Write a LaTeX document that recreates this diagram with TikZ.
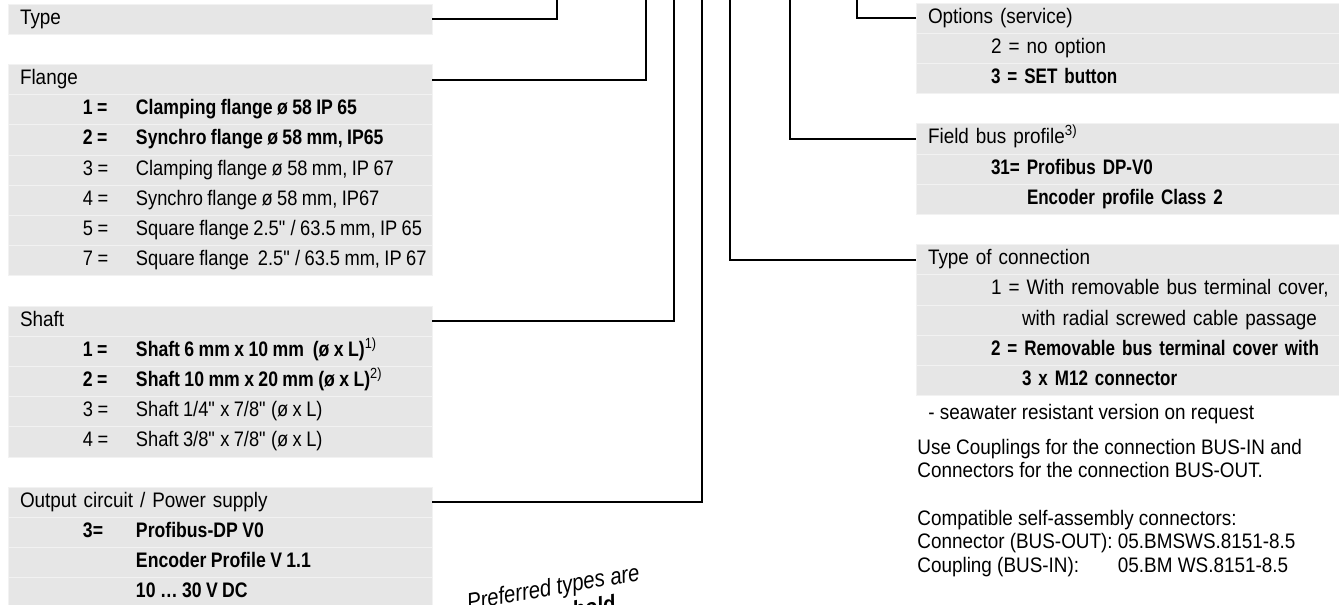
\documentclass[tikz,border=0pt]{standalone}
\usepackage{fontspec}
\setmainfont{Liberation Sans}[FakeStretch=0.9,BoldFeatures={FakeStretch=0.81}]
\newfontfamily\itemfont{Liberation Sans}[FakeStretch=0.87,BoldFeatures={FakeStretch=0.84}]
\newfontfamily\notefont{Liberation Sans}[FakeStretch=0.85]
\usepackage{calc}
\usetikzlibrary{positioning}
\definecolor{boxgray}{RGB}{230,230,230}
\definecolor{rowline}{RGB}{242,242,242}

\newcommand{\nr}[2]{\mbox{\itemfont\spaceskip=2.2pt\hspace*{31.5pt}\makebox[26.5pt][l]{#1}#2}}
\newcommand{\inch}{\textquotedbl}

\begin{document}
\begin{tikzpicture}[%
        x=0.5pt, y=-0.5pt,
        every node/.style={font=\fontsize{10.5}{12}\selectfont, text=black},
        box/.style={rectangle, fill=boxgray, draw=rowline, line width=0.5pt, outer sep=0pt,
          minimum height=15.1pt, text width=200pt, inner xsep=6pt, inner ysep=0pt,
          text height=7pt, text depth=2pt, align=left, anchor=north west},
        rbox/.style={box, text width=240pt},
        note/.style={inner sep=0pt, anchor=base west},
        link/.style={line width=1pt},
        node distance=0pt
      ]
      \useasboundingbox (0,0) rectangle (1339,605);
      \clip (0,0) rectangle (1339,605);
      \node [box] (type) at (8,4) {Type};
      \node [box] (flange) at (8,64.4) {Flange};
      \node [box] (fl1) [below=of flange] {\bfseries\nr{1 =}{Clamping flange ø 58 IP 65}};
      \node [box] (fl2) [below=of fl1] {\bfseries\nr{2 =}{Synchro flange ø 58 mm, IP65}};
      \node [box] (fl3) [below=of fl2] {\nr{3 =}{Clamping flange ø 58 mm, IP 67}};
      \node [box] (fl4) [below=of fl3] {\nr{4 =}{Synchro flange ø 58 mm, IP67}};
      \node [box] (fl5) [below=of fl4] {\nr{5 =}{Square flange 2.5\inch{} / 63.5 mm, IP 65}};
      \node [box] (fl7) [below=of fl5] {\nr{7 =}{Square flange \ 2.5\inch{} / 63.5 mm, IP 67}};
      \node [box] (shaft) [below=15.1pt of fl7] {Shaft};
      \node [box] (sh1) [below=of shaft] {\bfseries\nr{1 =}{Shaft 6 mm x 10 mm \ (ø x L)\textsuperscript{\mdseries 1)}}};
      \node [box] (sh2) [below=of sh1] {\bfseries\nr{2 =}{Shaft 10 mm x 20 mm (ø x L)\textsuperscript{\mdseries 2)}}};
      \node [box] (sh3) [below=of sh2] {\nr{3 =}{Shaft 1/4\inch{} x 7/8\inch{} (ø x L)}};
      \node [box] (sh4) [below=of sh3] {\nr{4 =}{Shaft 3/8\inch{} x 7/8\inch{} (ø x L)}};
      \node [box] (out) [below=15.1pt of sh4] {Output circuit / Power supply};
      \node [box] (out1) [below=of out] {\bfseries\nr{3=}{Profibus-DP V0}};
      \node [box] (out2) [below=of out1] {\bfseries\nr{}{Encoder Profile V 1.1}};
      \node [box] (out3) [below=of out2] {\bfseries\nr{}{10 … 30 V DC}};
      \node [rbox] (opt) at (916,3) {Options (service)};
      \node [rbox] (opt2) [below=of opt] {\hspace*{31.5pt}2 = no option};
      \node [rbox] (opt3) [below=of opt2] {\bfseries\hspace*{31.5pt}3 = SET button};
      \node [rbox] (bus) [below=15.1pt of opt3] {Field bus profile\textsuperscript{3)}};
      \node [rbox] (bus1) [below=of bus] {\bfseries\hspace*{31.5pt}31= Profibus DP-V0};
      \node [rbox] (bus2) [below=of bus1] {\bfseries\hspace*{49.5pt}Encoder profile Class 2};
      \node [rbox] (conn) [below=15.1pt of bus2] {Type of connection};
      \node [rbox] (conn1) [below=of conn] {\hspace*{31.5pt}1 = With removable bus terminal cover,};
      \node [rbox] (conn2) [below=of conn1] {\hspace*{47pt}with radial screwed cable passage};
      \node [rbox] (conn3) [below=of conn2] {\bfseries\hspace*{31.5pt}2 = Removable bus terminal cover with};
      \node [rbox] (conn4) [below=of conn3] {\bfseries\hspace*{47pt}3 x M12 connector};
      \node [note] (sea) at (928,419) {- seawater resistant version on request};
      \node [note] (use1) at (917,454) {Use Couplings for the connection BUS-IN and};
      \node [note] (use2) at (917,477) {Connectors for the connection BUS-OUT.};
      \node [note] (comp1) at (917,525) {Compatible self-assembly connectors:};
      \node [note] (comp2) at (917,548) {Connector (BUS-OUT): 05.BMSWS.8151-8.5};
      \node [note] (comp3) at (917,572) {\makebox[\widthof{Connector (BUS-OUT): }][l]{Coupling (BUS-IN):}05.BM WS.8151-8.5};
      \node [note, anchor=base east, rotate=10, font=\fontsize{12}{14}\selectfont] (pref) at (641,580) {\notefont\itshape Preferred types are};
      \node [note, anchor=base east, rotate=10, font=\fontsize{12}{14}\selectfont] (prefb) at (617,611) {\notefont\bfseries\itshape bold};
      \coordinate (top1) at (557,0);
      \coordinate (top2) at (646,0);
      \coordinate (top3) at (674,0);
      \coordinate (top4) at (702,0);
      \coordinate (top5) at (730,0);
      \coordinate (top6) at (790,0);
      \coordinate (top7) at (857,0);
      \draw [link] (type.east) -| (top1);
      \draw [link] (flange.east) -| (top2);
      \draw [link] (shaft.east) -| (top3);
      \draw [link] (out.east) -| (top4);
      \draw [link] (conn.west) -| (top5);
      \draw [link] (bus.west) -| (top6);
      \draw [link] (opt.west) -| (top7);
    \end{tikzpicture}
\end{document}
